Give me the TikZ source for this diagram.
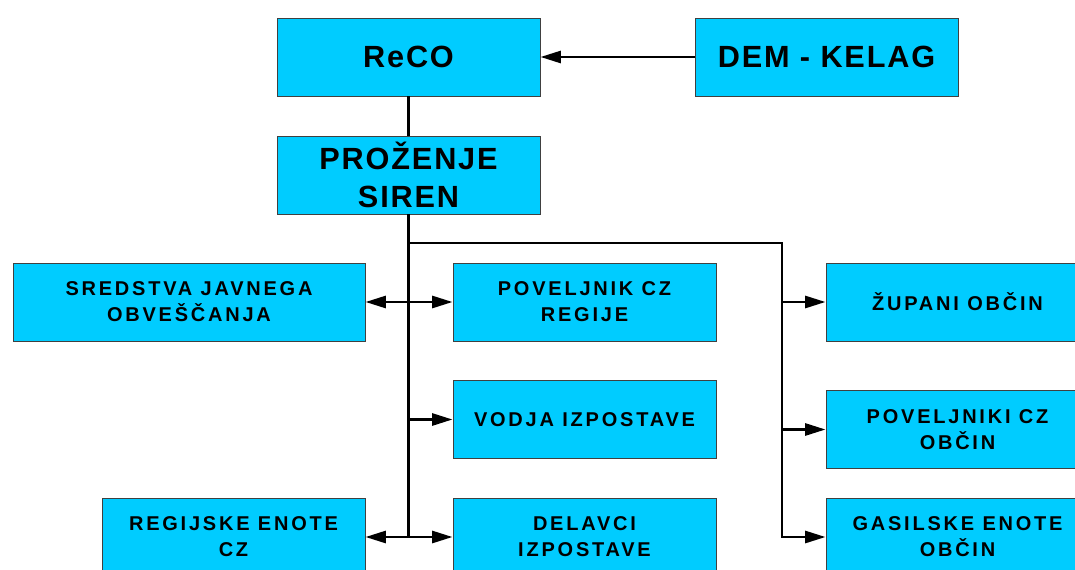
\documentclass[tikz,border=0pt]{standalone}
\usepackage{fontspec}
\setmainfont{Liberation Sans}
\newfontfamily\bigfont[LetterSpace=6]{Liberation Sans}
\newfontfamily\smallfont[LetterSpace=14]{Liberation Sans}
\usepackage{tikz}
\usetikzlibrary{arrows.meta}
\definecolor{boxcyan}{HTML}{00CCFF}
\tikzset{>={Triangle[length=14.5pt,width=8.5pt]},
  box/.style={draw=black!75, line width=0.6pt, fill=boxcyan, align=center, inner sep=0pt,
    minimum width=6.575cm, minimum height=1.95cm,
    font=\smallfont\bfseries\fontsize{14.2pt}{18.4pt}\selectfont},
  bigbox/.style={box, font=\bigfont\bfseries\fontsize{21.8pt}{26.7pt}\selectfont},
  link/.style={line width=2pt, black}}

\begin{document}
\begin{tikzpicture}[x=0.025cm, y=-0.025cm]
    \useasboundingbox (0,0) rectangle (1075,570);
    \clip (0,0) rectangle (1075,570);

      \node[bigbox] (reco) at (408.5,57) {ReCO};
      \node[bigbox] (dem) at (826.5,57) {DEM - KELAG};
      \node[bigbox] (sirene) at (408.5,175) {PROŽENJE\\SIREN};

      \node[box, minimum width=8.8cm] (sredstva) at (189,302) {SREDSTVA JAVNEGA\\OBVEŠČANJA};
      \node[box] (poveljnik) at (584.5,302) {POVELJNIK CZ\\REGIJE};
      \node[box] (vodja) at (584.5,419.5) {VODJA IZPOSTAVE};
      \node[box] (delavci) at (584.5,537) {DELAVCI\\IZPOSTAVE};
      \node[box] (regijske) at (233.5,537) {REGIJSKE ENOTE\\CZ};

      \node[box] (zupani) at (957.5,302) {ŽUPANI OBČIN};
      \node[box] (poveljniki) at (957.5,429.5) {POVELJNIKI CZ\\OBČIN};
      \node[box] (gasilske) at (957.5,537) {GASILSKE ENOTE\\OBČIN};

      \coordinate (branch) at (782,243);

    \draw[link,->] (dem.west) -- (reco.east);
    \draw[link] (reco.south) -- (sirene.north);
    \draw[link] (sirene.south) -- (sirene.south |- regijske.east);

    \draw[link,->] (sirene.south |- sredstva.east) -- (sredstva.east);
    \draw[link,->] (sirene.south |- poveljnik.west) -- (poveljnik.west);
    \draw[link,->] (sirene.south |- vodja.west) -- (vodja.west);
    \draw[link,->] (sirene.south |- delavci.west) -- (delavci.west);
    \draw[link,->] (sirene.south |- regijske.east) -- (regijske.east);

    \draw[link,->] (sirene.south |- branch) -- (branch) |- (gasilske.west);
    \draw[link,->] (branch |- zupani.west) -- (zupani.west);
    \draw[link,->] (branch |- poveljniki.west) -- (poveljniki.west);
\end{tikzpicture}
\end{document}
